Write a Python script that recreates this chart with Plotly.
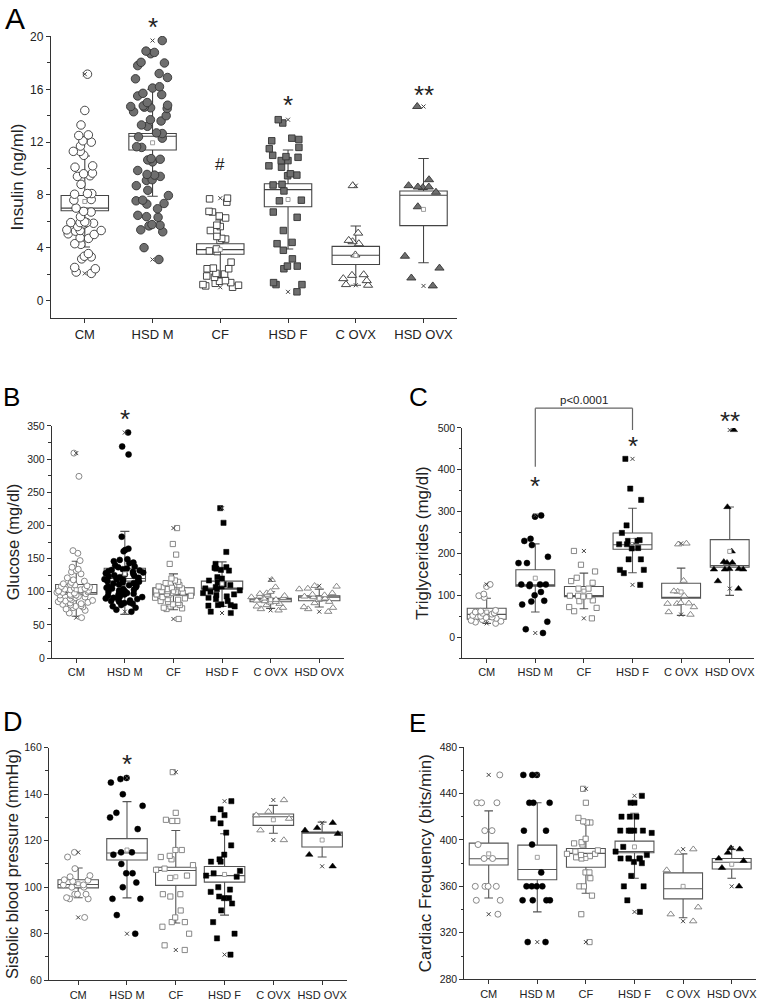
import plotly.graph_objects as go

CATS = ["CM", "HSD M", "CF", "HSD F", "C OVX", "HSD OVX"]

# ---------------- Panel A: Insulin (ng/ml) ----------------
ins_cm = [17.15, 14.4, 13.3, 12.55, 12.5, 12.1, 12.0, 11.7, 11.3, 11.3, 11.0, 10.2, 10.1, 9.6, 9.65,
          9.45, 9.4, 8.8, 8.1, 8.1, 8.05, 7.65, 7.6, 7.0, 6.7, 6.75, 6.35, 5.9, 5.85, 5.9, 5.95, 5.9, 5.8,
          5.6, 5.3, 5.35, 5.3, 5.25, 5.0, 5.05, 4.7, 4.75, 4.25, 4.3, 3.55, 3.35, 3.3, 3.15, 2.5, 2.4, 2.15, 2.05]
ins_hsdm = [19.7, 18.9, 18.8, 18.7, 18.0, 18.05, 17.8, 17.2, 16.9, 16.8, 16.2, 16.1, 15.7, 15.6, 15.5, 15.0,
            14.8, 14.6, 14.65, 14.55, 14.7, 14.75, 14.3, 14.0, 13.7, 13.6, 13.3, 13.2, 12.7, 12.65, 12.4,
            12.3, 11.6, 11.65, 10.7, 10.75, 10.65, 10.5, 9.85, 9.55, 9.5, 9.4, 9.15, 9.1, 8.7, 8.35, 7.95,
            7.6, 7.55, 7.35, 7.3, 6.95, 6.45, 6.35, 6.3, 5.7, 5.75, 5.65, 5.2, 5.35, 4.0, 3.1]
ins_cf = [7.75, 7.7, 7.45, 6.7, 6.75, 6.4, 6.25, 5.7, 5.6, 5.3, 4.85, 4.7, 4.65, 4.55, 3.9, 3.75, 3.7,
          2.9, 2.45, 2.4, 2.4, 2.05, 2.0, 1.85, 1.75, 1.45, 1.5, 1.35, 1.3, 1.2, 1.1, 1.15, 1.0]
ins_hsdf = [13.7, 13.45, 12.3, 12.2, 12.1, 11.6, 11.5, 11.0, 10.9, 10.85, 10.6, 10.6, 10.2, 10.1, 9.6,
            9.5, 9.45, 8.8, 8.75, 8.3, 7.6, 7.55, 6.7, 6.3, 5.3, 4.4, 4.3, 3.8, 3.15, 2.6, 2.6, 2.4,
            1.35, 1.2, 1.2, 0.65]
ins_covx = [8.7, 5.1, 4.55, 4.45, 4.3, 3.45, 1.95, 1.9, 1.65, 1.5, 1.2, 1.15]
ins_hsdovx = [14.7, 9.15, 8.7, 8.6, 8.6, 8.55, 8.2, 7.1, 3.35, 2.45, 1.7, 1.1]
ins_q1 = [6.8, 11.4, 3.5, 7.1, 2.72, 5.67]
ins_med = [7.0, 12.45, 3.85, 8.4, 3.42, 7.97]
ins_q3 = [7.95, 12.65, 4.3, 8.85, 4.1, 8.29]
ins_lo = [4.05, 7.9, 1.75, 3.9, 1.15, 2.85]
ins_hi = [10.95, 16.0, 6.1, 11.4, 5.64, 10.76]
ins_mean = [7.5, 11.95, 3.85, 7.65, 3.4, 6.9]

# ---------------- Panel B: Glucose (mg/dl) ----------------
glu_cm = [309, 274, 162, 158, 147, 137, 134, 132, 130, 127, 121, 118, 116, 114, 112, 111, 110, 109, 108,
          107, 106, 105, 104, 103, 103, 102, 101, 100, 99, 99, 98, 97, 96, 95, 95, 94, 93, 92, 91, 90, 89,
          88, 87, 86, 85, 84, 83, 82, 81, 80, 79, 78, 77, 76, 74, 72, 68, 61]
glu_hsdm = [340, 319, 307, 183, 165, 163, 161, 149, 148, 146, 144, 143, 140, 138, 137, 135, 134, 133, 132,
            131, 130, 129, 128, 127, 126, 125, 124, 123, 122, 121, 120, 119, 119, 118, 117, 116, 115, 114,
            113, 112, 111, 110, 109, 108, 107, 106, 105, 104, 103, 102, 101, 100, 99, 98, 97, 96, 95, 94,
            93, 92, 91, 90, 89, 88, 87, 86, 85, 84, 83, 82, 80, 78, 76, 73, 70]
glu_cf = [196, 172, 156, 142, 120, 117, 115, 113, 110, 108, 107, 106, 105, 104, 103, 102, 101, 100, 99,
          98, 97, 96, 95, 94, 92, 91, 90, 89, 88, 86, 85, 83, 81, 80, 78, 76, 75, 74, 59]
glu_hsdf = [226, 204, 160, 142, 137, 136, 135, 133, 132, 122, 120, 117, 114, 111, 110, 108, 107, 105, 104,
            102, 100, 98, 96, 95, 93, 91, 89, 86, 81, 80, 80, 79, 78, 70, 68]
glu_covx = [118, 107, 100, 98, 97, 95, 94, 93, 92, 91, 90, 88, 87, 86, 85, 84, 82, 80, 78, 76, 74, 72]
glu_hsdovx = [109, 108, 105, 104, 98, 96, 95, 93, 92, 90, 88, 85, 83, 77, 76, 74, 70]
glu_q1 = [96.5, 116, 95, 104, 85, 86.5]
glu_med = [99, 120, 96, 105, 88, 92]
glu_q3 = [111, 135.5, 106, 116, 90, 94]
glu_lo = [63, 66, 73, 78, 75, 77]
glu_hi = [146, 191, 127, 145, 100, 104]
glu_mean = [103, 127, 100, 112, 88, 90]

# ---------------- Panel C: Triglycerides (mg/dl) ----------------
tg_cm = [126, 121, 103, 99, 95, 64, 62, 60, 58, 57, 55, 52, 50, 48, 47, 45, 42, 40, 38, 36, 33]
tg_hsdm = [291, 288, 235, 230, 220, 192, 177, 177, 126, 126, 126, 126, 122, 108, 100, 87, 85, 78, 37, 19, 10]
tg_cf = [206, 173, 157, 142, 134, 130, 116, 116, 99, 99, 98, 97, 88, 86, 72, 70, 62, 45]
tg_hsdf = [426, 355, 328, 267, 249, 232, 230, 230, 222, 222, 213, 212, 186, 186, 161, 161, 153, 125]
tg_covx = [224, 222, 135, 110, 109, 99, 82, 81, 80, 80, 72, 60, 54]
tg_hsdovx = [495, 311, 205, 180, 178, 178, 163, 163, 162, 162, 162, 134, 116]
tg_q1 = [43, 122, 97, 210, 93, 167]
tg_med = [54.5, 125, 99, 221, 95, 171]
tg_q3 = [69, 161, 121, 249, 129, 233]
tg_lo = [33, 60, 68, 154, 52, 100]
tg_hi = [93, 223, 153, 308, 165, 311]
tg_mean = [60, 141, 110, 231, 108, 205]

# ---------------- Panel D: Systolic blood pressure (mmHg) ----------------
sbp_cm = [115, 113, 108, 105, 104.5, 103.2, 103, 102.5, 101, 101, 100, 100, 97, 97, 97, 95.5, 95, 95, 87]
sbp_hsdm = [147, 146.5, 145, 140, 135, 132, 130, 125, 115, 115, 114, 110, 106, 106, 102, 100, 95, 95, 88, 80]
sbp_cf = [149.5, 132, 129, 128.5, 128.5, 116, 116, 113.5, 113, 112, 109.5, 108, 107.5, 105, 104, 97, 97,
          96, 90, 87, 85, 85, 83, 80, 75, 73]
sbp_hsdf = [137, 133.5, 131, 129.5, 127.5, 123.5, 118, 114, 111, 111, 112, 107, 106, 105, 104.5, 100, 99,
            98, 96, 95.3, 95.3, 93, 90, 85, 80, 78, 71]
sbp_covx = [137.5, 132.5, 131, 129.5, 124.5, 120.3]
sbp_hsdovx = [127.7, 125.5, 124.5, 123, 114, 109]
sbp_q1 = [99.7, 111.7, 100.8, 102.2, 126.6, 117.3]
sbp_med = [101.2, 114.7, 107.2, 105, 130.3, 123.5]
sbp_q3 = [103.2, 120.9, 108.6, 108.9, 131.5, 123.7]
sbp_lo = [95.5, 95.4, 84.6, 88, 123.2, 113]
sbp_hi = [108.3, 136.8, 124.4, 123, 135.2, 128]
sbp_mean = [101.5, 116, 104.5, 105.5, 129, 120.3]

# ---------------- Panel E: Cardiac frequency (bits/min) ----------------
hr_cm = [456, 432, 432, 432, 408, 408, 396, 384, 384, 360, 360, 360, 360, 348, 348, 336]
hr_hsdm = [456, 456, 456, 432, 432, 432, 408, 408, 396, 372, 360, 360, 360, 360, 348, 348, 348, 348, 312, 312]
hr_cf = [444, 432, 419, 416, 415, 415, 401, 398, 397, 396, 391, 390, 388, 388, 387, 386, 385, 384, 372,
         372, 367, 360, 360, 352, 336, 312]
hr_hsdf = [438, 432, 432, 420, 420, 420, 408, 408, 408, 408, 408, 406, 394, 390, 387, 384, 384, 384, 384,
           384, 381, 380, 369, 360, 360, 348, 338]
hr_covx = [392, 389, 374, 342, 336, 330]
hr_hsdovx = [393, 392, 389, 384, 382, 376, 360]
hr_q1 = [378.4, 365.7, 376.5, 389, 349.2, 375]
hr_med = [383.8, 374.5, 388.4, 390, 358, 380.7]
hr_q3 = [397.2, 395.5, 392.6, 399, 371.6, 384]
hr_lo = [350, 338, 354, 367, 333, 367]
hr_hi = [425, 432, 414, 423, 388, 392]
hr_mean = [388, 385, 384, 394, 360, 379]

W, H = 762, 1004
FONT = "Arial, Liberation Sans, sans-serif"
GRAYF = "#6e6e6e"

# panel geometry (pixels) : x0, x1, y_top, y_bottom
panels = {
    "A": dict(ax="", px=(51, 458), py=(30.3, 316), yr=[-1.35, 20.05], xr=[-0.5, 5.5], dt=4, mdt=2,
              title="Insulin (ng/ml)", bw=0.70, tick=12, cat=13, tsize=17, standoff=2),
    "B": dict(ax="2", px=(52, 344), py=(425, 660), yr=[0, 350], xr=[-0.5, 5.5], dt=50, mdt=25,
              title="Glucose (mg/dl)", bw=0.85, tick=10.5, cat=11, tsize=16.5, standoff=3),
    "C": dict(ax="3", px=(463, 755), py=(427, 660), yr=[-50, 500], xr=[-0.5, 5.5], dt=100, mdt=50,
              title="Triglycerides (mg/dl)", bw=0.80, tick=10.5, cat=11, tsize=17, standoff=4),
    "D": dict(ax="4", px=(49, 347), py=(750.7, 986), yr=[60, 160], xr=[-0.6, 5.5], dt=20, mdt=10,
              title="Sistolic blood pressure (mmHg)", bw=0.83, tick=10.5, cat=11, tsize=16.5, standoff=1),
    "E": dict(ax="5", px=(465, 757), py=(750, 985), yr=[280, 480], xr=[-0.5, 5.5], dt=40, mdt=20,
              title="Cardiac Frequency (bits/min)", bw=0.80, tick=10.5, cat=11, tsize=17, standoff=3),
}

data = {
    "A": ([ins_cm, ins_hsdm, ins_cf, ins_hsdf, ins_covx, ins_hsdovx], ins_q1, ins_med, ins_q3, ins_lo, ins_hi, ins_mean),
    "B": ([glu_cm, glu_hsdm, glu_cf, glu_hsdf, glu_covx, glu_hsdovx], glu_q1, glu_med, glu_q3, glu_lo, glu_hi, glu_mean),
    "C": ([tg_cm, tg_hsdm, tg_cf, tg_hsdf, tg_covx, tg_hsdovx], tg_q1, tg_med, tg_q3, tg_lo, tg_hi, tg_mean),
    "D": ([sbp_cm, sbp_hsdm, sbp_cf, sbp_hsdf, sbp_covx, sbp_hsdovx], sbp_q1, sbp_med, sbp_q3, sbp_lo, sbp_hi, sbp_mean),
    "E": ([hr_cm, hr_hsdm, hr_cf, hr_hsdf, hr_covx, hr_hsdovx], hr_q1, hr_med, hr_q3, hr_lo, hr_hi, hr_mean),
}

SYMS = ["circle", "circle", "square", "square", "triangle-up", "triangle-up"]


def marker_style(panel, i):
    if panel == "A":
        size = [8.5, 8.5, 6.5, 6.5, 8, 8][i]
        fill = "white" if i % 2 == 0 else GRAYF
        return dict(symbol=SYMS[i], size=size, color=fill, line=dict(color="#333333", width=0.9))
    size = [6, 6, 5.2, 5.2, 6.5, 6.5][i]
    if i % 2 == 0 or (panel == "B" and i == 5):
        return dict(symbol=SYMS[i], size=size, color="white", line=dict(color="#7a7a7a", width=0.9))
    return dict(symbol=SYMS[i], size=size, color="black", line=dict(color="black", width=0.5))


fig = go.Figure()
layout_axes = {}

for key, p in panels.items():
    ax = p["ax"]
    xname, yname = "x" + ax, "y" + ax
    groups, q1, med, q3, lo, hi, mean = data[key]
    boxcol = "#444444" if key == "A" else "#555555"
    for i, cat in enumerate(CATS):
        # summary box (box + whiskers)
        fig.add_trace(go.Box(
            x=[cat], q1=[q1[i]], median=[med[i]], q3=[q3[i]], lowerfence=[lo[i]], upperfence=[hi[i]],
            width=p["bw"], whiskerwidth=0.22, fillcolor="rgba(0,0,0,0)",
            line=dict(color=boxcol, width=1.1), boxpoints=False,
            xaxis=xname, yaxis=yname, showlegend=False, hoverinfo="skip"))
    for i, cat in enumerate(CATS):
        # individual animals (jittered by the library)
        fig.add_trace(go.Box(
            x=[cat] * len(groups[i]), y=groups[i], boxpoints="all", jitter=1.0, pointpos=0,
            width=p["bw"], fillcolor="rgba(0,0,0,0)", line=dict(width=0, color="rgba(0,0,0,0)"),
            marker=marker_style(key, i), xaxis=xname, yaxis=yname, showlegend=False, hoverinfo="skip"))
    # min / max crosses and mean squares
    fig.add_trace(go.Scatter(
        x=CATS + CATS, y=[max(g) for g in groups] + [min(g) for g in groups], mode="markers",
        marker=dict(symbol="x-thin", size=4, line=dict(color="#444444", width=1)),
        xaxis=xname, yaxis=yname, showlegend=False, hoverinfo="skip", cliponaxis=False))
    fig.add_trace(go.Scatter(
        x=CATS, y=mean, mode="markers",
        marker=dict(symbol="square", size=4, color="white", line=dict(color="#888888", width=0.8)),
        xaxis=xname, yaxis=yname, showlegend=False, hoverinfo="skip", cliponaxis=False))

    xd = [p["px"][0] / W, p["px"][1] / W]
    yd = [1 - p["py"][1] / H, 1 - p["py"][0] / H]
    p["xd"], p["yd"] = xd, yd
    layout_axes["xaxis" + ax] = dict(
        domain=xd, anchor=yname, type="category", categoryorder="array", categoryarray=CATS,
        range=p["xr"], showline=True, linecolor="#333333", linewidth=1.2, ticks="outside", ticklen=4,
        tickcolor="#333333", showgrid=False, zeroline=False,
        tickfont=dict(family=FONT, size=p["cat"], color="#222222"))
    layout_axes["yaxis" + ax] = dict(
        domain=yd, anchor=xname, range=p["yr"], showline=True, linecolor="#333333", linewidth=1.2,
        ticks="outside", ticklen=4, tickcolor="#333333", dtick=p["dt"], tick0=0, showgrid=False,
        zeroline=False, tickfont=dict(family=FONT, size=p["tick"], color="#222222"),
        minor=dict(ticks="outside", ticklen=2.5, dtick=p["mdt"], tick0=0, tickcolor="#333333", showgrid=False),
        title=dict(text=p["title"], font=dict(family=FONT, size=p["tsize"], color="#222222"),
                   standoff=p["standoff"]))

fig.update_layout(
    width=W, height=H, margin=dict(l=0, r=0, t=0, b=0), paper_bgcolor="white", plot_bgcolor="white",
    boxmode="overlay", showlegend=False, **layout_axes)


def paper_y(panel, v):
    p = panels[panel]
    return p["yd"][0] + (v - p["yr"][0]) / (p["yr"][1] - p["yr"][0]) * (p["yd"][1] - p["yd"][0])


def paper_x(panel, cat):
    p = panels[panel]
    idx = CATS.index(cat)
    return p["xd"][0] + (idx - p["xr"][0]) / (p["xr"][1] - p["xr"][0]) * (p["xd"][1] - p["xd"][0])


def ann(panel, cat, yv, text, size=26, yshift=-6):
    fig.add_annotation(x=paper_x(panel, cat), y=paper_y(panel, yv), xref="paper", yref="paper", text=text,
                       showarrow=False, xanchor="center", yanchor="middle",
                       font=dict(family=FONT, size=size, color="#222222"), yshift=yshift)


# significance marks (value = visual centre of the glyph)
ann("A", "HSD M", 21.2, "*")
ann("A", "HSD F", 15.3, "*")
ann("A", "CF", 10.3, "#", 17, 0)
ann("A", "HSD OVX", 16.0, "**")
ann("B", "HSD M", 369, "*")
ann("C", "HSD M", 376, "*")
ann("C", "HSD F", 470, "*")
ann("C", "HSD OVX", 530, "**")
ann("D", "HSD M", 155.7, "*")

# bracket HSD M vs HSD F in panel C
bx0, bx1 = paper_x("C", "HSD M"), paper_x("C", "HSD F")
btop = paper_y("C", 547)
for (xa, ya, xb, yb) in [(bx0, paper_y("C", 407), bx0, btop), (bx0, btop, bx1, btop),
                         (bx1, btop, bx1, paper_y("C", 495))]:
    fig.add_shape(type="line", xref="paper", yref="paper", x0=xa, y0=ya, x1=xb, y1=yb,
                  line=dict(color="#666666", width=1.2))
fig.add_annotation(x=(bx0 + bx1) / 2, y=btop, xref="paper", yref="paper", text="p<0.0001",
                   showarrow=False, xanchor="center", yanchor="bottom",
                   font=dict(family=FONT, size=11.5, color="#222222"))

# panel letters
for letter, (xp, yp, fs) in {"A": (3, 13, 30), "B": (1, 396, 26), "C": (408, 396, 26),
                             "D": (1, 725, 27), "E": (408, 726, 26)}.items():
    fig.add_annotation(x=xp / W, y=1 - yp / H, xref="paper", yref="paper", text=letter, showarrow=False,
                       xanchor="left", yanchor="middle", font=dict(family=FONT, size=fs, color="black"))

fig.write_html("out.html", config={"displayModeBar": False},
               post_script="document.body.style.margin='0';document.body.style.overflow='hidden';")
